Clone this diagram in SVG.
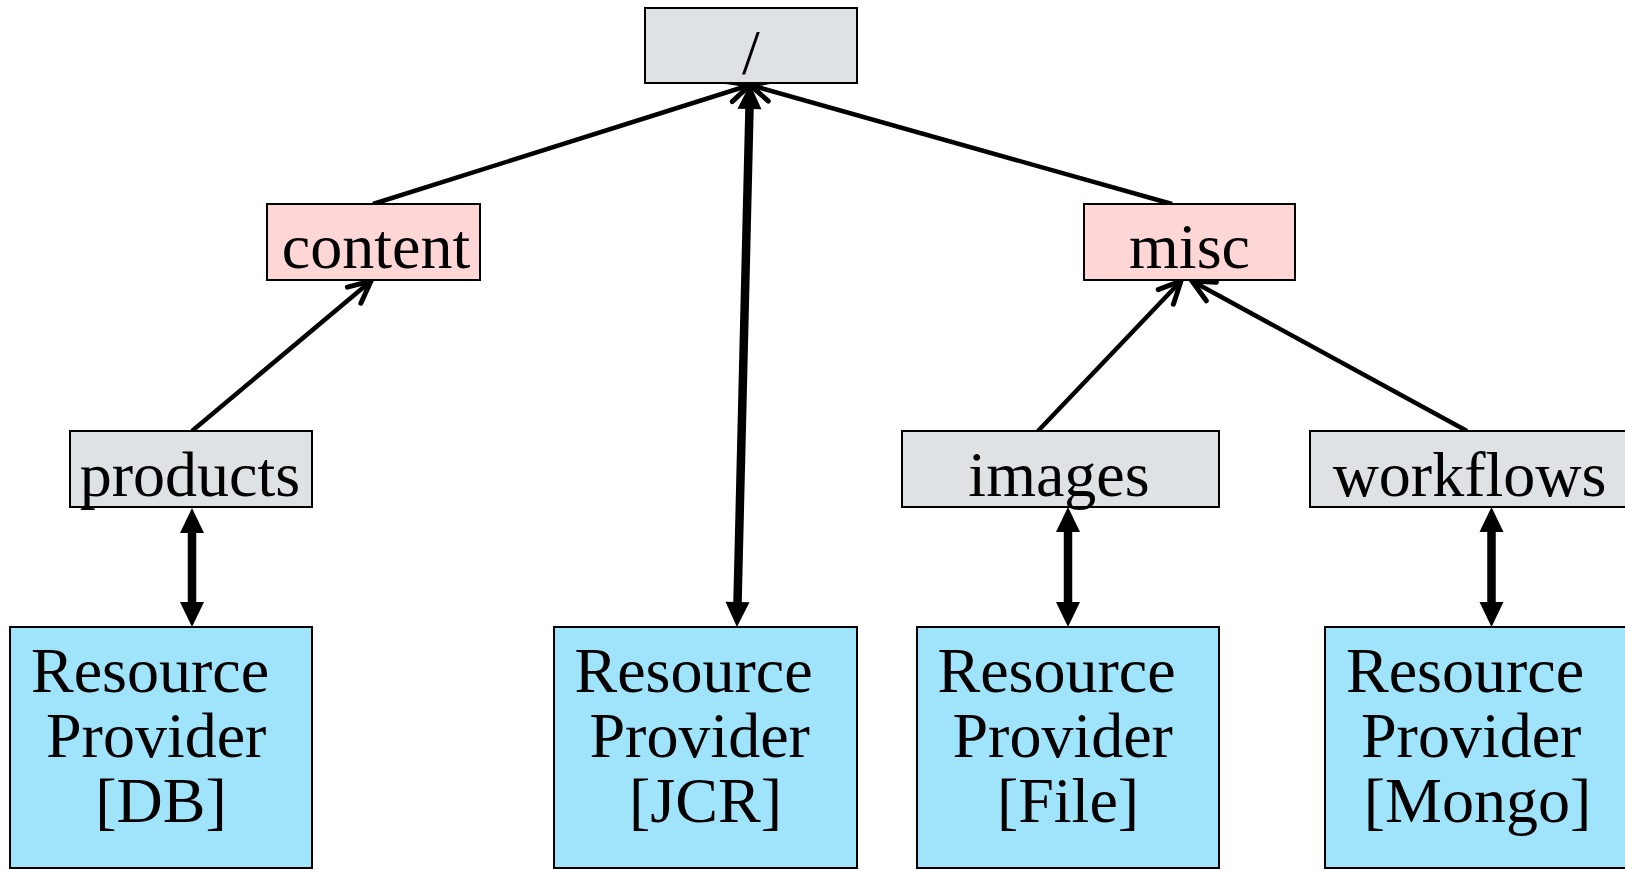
<svg xmlns="http://www.w3.org/2000/svg" width="1625" height="870" viewBox="0 0 1625 870">
  <style>
    .box { stroke: #000; stroke-width: 2; }
    .gray { fill: #dfe2e5; }
    .pink { fill: #ffd6d6; }
    .blue { fill: #a0e4fc; }
    text { font-family: "Liberation Serif", "Times New Roman", serif; font-size: 64px; fill: #000; }
    .mid { text-anchor: middle; }
    .link { stroke: #000; stroke-width: 4.5; fill: none; }
    .pipe { stroke: #000; stroke-width: 8.5; fill: none; }
  </style>
  <defs>
    <marker id="open" markerUnits="userSpaceOnUse" markerWidth="40" markerHeight="40" refX="0" refY="0" orient="auto" overflow="visible">
      <path d="M-22,-10.5 L0,0 L-22,10.5" fill="none" stroke="#000" stroke-width="5" stroke-linecap="round" stroke-linejoin="miter"/>
    </marker>
    <marker id="solid" markerUnits="userSpaceOnUse" markerWidth="30" markerHeight="30" refX="0" refY="0" orient="auto-start-reverse" overflow="visible">
      <path d="M-1,-12 L24,0 L-1,12 z" fill="#000"/>
    </marker>
  </defs>

  <!-- connectors -->
  <g id="connectors">
    <line class="link" x1="373" y1="204" x2="750" y2="85" marker-end="url(#open)"/>
    <line class="link" x1="1172" y1="204" x2="750" y2="85" marker-end="url(#open)"/>
    <line class="link" x1="192" y1="431" x2="371" y2="281" marker-end="url(#open)"/>
    <line class="link" x1="1038" y1="431" x2="1181" y2="281" marker-end="url(#open)"/>
    <line class="link" x1="1467" y1="431" x2="1192" y2="281" marker-end="url(#open)"/>
    <line class="pipe" x1="192" y1="532" x2="192" y2="603" marker-start="url(#solid)" marker-end="url(#solid)"/>
    <line class="pipe" x1="1068" y1="531" x2="1068" y2="603" marker-start="url(#solid)" marker-end="url(#solid)"/>
    <line class="pipe" x1="1491.5" y1="531" x2="1491.5" y2="603" marker-start="url(#solid)" marker-end="url(#solid)"/>
    <line class="pipe" x1="737.5" y1="603" x2="749.5" y2="108" marker-start="url(#solid)" marker-end="url(#solid)"/>
  </g>

  <!-- tree nodes -->
  <g id="root">
    <rect class="box gray" x="645" y="8" width="212" height="75"/>
    <text class="mid" x="751" y="74">/</text>
  </g>
  <g id="content">
    <rect class="box pink" x="267" y="204" width="213" height="76"/>
    <text class="mid" x="376" y="268">content</text>
  </g>
  <g id="misc">
    <rect class="box pink" x="1084" y="204" width="211" height="76"/>
    <text class="mid" x="1189.5" y="268">misc</text>
  </g>
  <g id="products">
    <rect class="box gray" x="70" y="431" width="242" height="76"/>
    <text class="mid" x="190" y="496">products</text>
  </g>
  <g id="images">
    <rect class="box gray" x="902" y="431" width="317" height="76"/>
    <text class="mid" x="1059" y="496">images</text>
  </g>
  <g id="workflows">
    <rect class="box gray" x="1310" y="431" width="320" height="76"/>
    <text class="mid" x="1469.5" y="496">workflows</text>
  </g>

  <!-- resource providers -->
  <g id="provider-db">
    <rect class="box blue" x="10" y="627" width="302" height="241"/>
    <text x="31" y="692">Resource</text>
    <text x="46" y="757">Provider</text>
    <text class="mid" x="161" y="822">[DB]</text>
  </g>
  <g id="provider-jcr">
    <rect class="box blue" x="554" y="627" width="303" height="241"/>
    <text x="574.5" y="692">Resource</text>
    <text x="589.5" y="757">Provider</text>
    <text class="mid" x="705.5" y="822">[JCR]</text>
  </g>
  <g id="provider-file">
    <rect class="box blue" x="917" y="627" width="302" height="241"/>
    <text x="937.5" y="692">Resource</text>
    <text x="952.5" y="757">Provider</text>
    <text class="mid" x="1068" y="822">[File]</text>
  </g>
  <g id="provider-mongo">
    <rect class="box blue" x="1325" y="627" width="305" height="241"/>
    <text x="1346" y="692">Resource</text>
    <text x="1361" y="757">Provider</text>
    <text class="mid" x="1477.5" y="822">[Mongo]</text>
  </g>
</svg>
